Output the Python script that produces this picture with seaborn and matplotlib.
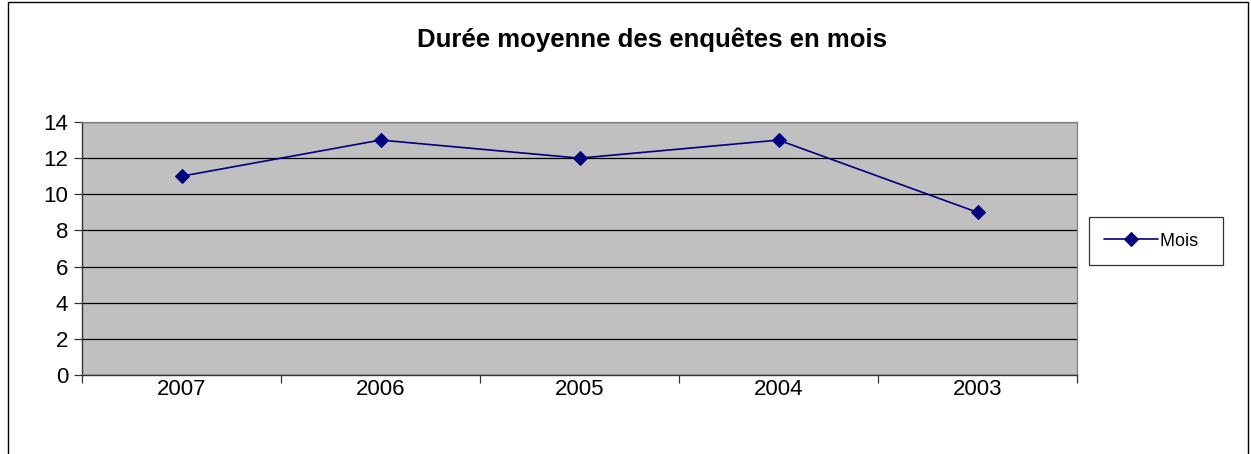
import matplotlib
matplotlib.use("Agg")
import matplotlib.pyplot as plt
import seaborn as sns
import pandas as pd
import numpy as np
from matplotlib.patches import Rectangle

years = ["2007", "2006", "2005", "2004", "2003"]
mois = [11, 13, 12, 13, 9]

sns.set_style("white")
plt.rcParams["font.family"] = ["Liberation Sans", "DejaVu Sans"]
plt.rcParams["text.color"] = "black"
plt.rcParams["xtick.color"] = "black"
plt.rcParams["ytick.color"] = "black"

df = pd.DataFrame({"pos": np.arange(len(years)), "Mois": mois})

fig = plt.figure(figsize=(12.51, 4.54), dpi=100)
ax = fig.add_axes([82 / 1251, 1 - 375 / 454, (1077 - 82) / 1251, (375 - 122) / 454])
ax.set_facecolor("#c0c0c0")

sns.lineplot(data=df, x="pos", y="Mois", ax=ax, color="#000080", marker="D",
             markersize=7, markeredgecolor="#000080", linewidth=1.2, label="Mois")

ax.set_xlim(-0.5, len(years) - 0.5)
ax.set_ylim(0, 14)
ax.set_yticks(range(0, 15, 2))
ax.yaxis.grid(True, color="black", linewidth=0.9)
ax.set_axisbelow(True)
ax.set_xticks(np.arange(len(years)))
ax.set_xticklabels(years)
ax.set_xticks(np.arange(-0.5, len(years)), minor=True)
ax.tick_params(axis="x", which="major", bottom=True, length=0, pad=3, labelsize=16,
               labelcolor="black")
ax.tick_params(axis="x", which="minor", bottom=True, length=6, width=0.9,
               color="#333333", direction="out")
ax.tick_params(axis="y", left=True, length=6, width=0.9, color="#333333",
               labelsize=16, pad=4, labelcolor="black")
ax.set_xlabel("")
ax.set_ylabel("")
for side in ["top", "right"]:
    ax.spines[side].set_color("#808080")
    ax.spines[side].set_linewidth(0.9)
for side in ["left", "bottom"]:
    ax.spines[side].set_color("#333333")
    ax.spines[side].set_linewidth(1.0)

fig.text(652 / 1251, 1 - 40 / 454, "Durée moyenne des enquêtes en mois", ha="center",
         va="center", fontsize=18.5, fontweight="bold", color="black")

leg = ax.legend(loc="center", bbox_to_anchor=(1156 / 1251, 1 - 241 / 454),
                bbox_transform=fig.transFigure, fancybox=False, frameon=True,
                edgecolor="black", fontsize=13, handlelength=3, borderpad=0.85,
                handletextpad=0.1, borderaxespad=0)
leg.get_frame().set_linewidth(0.9)
for txt in leg.get_texts():
    txt.set_text("Mois  ")
    txt.set_color("black")

fig.patches.append(Rectangle((8 / 1251, -0.01), 1240 / 1251, 1 - 2 / 454 + 0.01,
                             transform=fig.transFigure, fill=False,
                             edgecolor="black", linewidth=1))

fig.savefig("out.png", dpi=100)
